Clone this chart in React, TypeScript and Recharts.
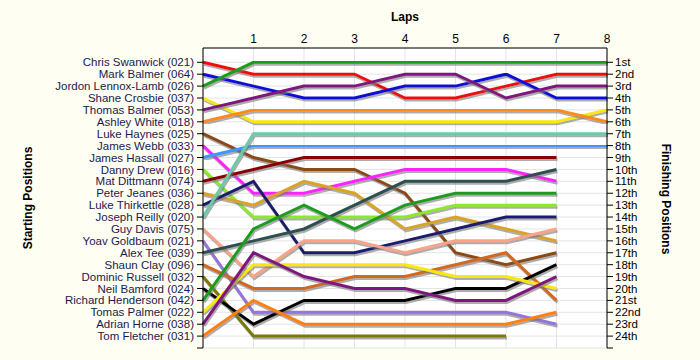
import React from 'react';
import { LineChart, Line, XAxis, YAxis, CartesianGrid } from 'recharts';

const laps = [0, 1, 2, 3, 4, 5, 6, 7, 8];
const lapTicks = ['', '1', '2', '3', '4', '5', '6', '7', '8'];

const driverNames = [
  'Chris Swanwick (021)', 'Mark Balmer (064)', 'Jordon Lennox-Lamb (026)', 'Shane Crosbie (037)',
  'Thomas Balmer (053)', 'Ashley White (018)', 'Luke Haynes (025)', 'James Webb (033)',
  'James Hassall (027)', 'Danny Drew (016)', 'Mat Dittmann (074)', 'Peter Jeanes (036)',
  'Luke Thirkettle (028)', 'Joseph Reilly (020)', 'Guy Davis (075)', 'Yoav Goldbaum (021)',
  'Alex Tee (039)', 'Shaun Clay (096)', 'Dominic Russell (032)', 'Neil Bamford (024)',
  'Richard Henderson (042)', 'Tomas Palmer (022)', 'Adrian Horne (038)', 'Tom Fletcher (031)',
];

const finishLabels = [
  '1st', '2nd', '3rd', '4th', '5th', '6th', '7th', '8th', '9th', '10th', '11th', '12th',
  '13th', '14th', '15th', '16th', '17th', '18th', '19th', '20th', '21st', '22nd', '23rd', '24th',
];

const driverColors = [
  '#ee1111', '#1010d8', '#1c9c1c', '#f8e80a', '#7e167e', '#ff8a1a', '#8b4a14', '#ff22ff',
  '#3a98ff', '#8ce82a', '#880000', '#d8a428', '#1c1c6e', '#6ccaa8', '#f8a488', '#9474d8',
  '#2f4f4f', '#d2691e', '#7a7a00', '#000000', '#1c9c1c', '#f8e80a', '#7e167e', '#ff8010',
];

// position per lap, index = lap number
const swanwick = [1, 2, 2, 2, 4, 4, 3, 2, 2];
const markBalmer = [2, 3, 4, 4, 3, 3, 2, 4, 4];
const lennoxLamb = [3, 1, 1, 1, 1, 1, 1, 1, 1];
const crosbie = [4, 6, 6, 6, 6, 6, 6, 6, 5];
const thomasBalmer = [5, 4, 3, 3, 2, 2, 4, 3, 3];
const ashleyWhite = [6, 5, 5, 5, 5, 5, 5, 5, 6];
const haynes = [7, 9, 10, 10, 12, 17, 18, 17];
const webb = [8, 12, 12, 11, 10, 10, 10, 11];
const hassall = [9, 8, 8, 8, 8, 8, 8, 8, 8];
const drew = [10, 14, 14, 14, 14, 13, 13, 13];
const dittmann = [11, 10, 9, 9, 9, 9, 9, 9];
const jeanes = [12, 13, 11, 12, 15, 14, 15, 16];
const thirkettle = [13, 11, 17, 17, 16, 15, 14, 14];
const reilly = [14, 7, 7, 7, 7, 7, 7, 7, 7];
const davis = [15, 19, 16, 16, 17, 16, 16, 15];
const goldbaum = [16, 22, 22, 22, 22, 22, 22, 23];
const tee = [17, 16, 15, 13, 11, 11, 11, 10];
const clay = [18, 20, 20, 19, 19, 18, 17, 21];
const russell = [19, 24, 24, 24, 24, 24, 24];
const bamford = [20, 23, 21, 21, 21, 20, 20, 18];
const henderson = [21, 15, 13, 15, 13, 12, 12, 12];
const palmer = [22, 18, 18, 18, 18, 19, 19, 20];
const horne = [23, 17, 19, 20, 20, 21, 21, 19];
const fletcher = [24, 21, 23, 23, 23, 23, 23, 22];

const driverLaps = [
  swanwick, markBalmer, lennoxLamb, crosbie, thomasBalmer, ashleyWhite, haynes, webb,
  hassall, drew, dittmann, jeanes, thirkettle, reilly, davis, goldbaum,
  tee, clay, russell, bamford, henderson, palmer, horne, fletcher,
];

const positionTicks = [...driverNames.map((_, i) => i + 1), 25];

const chartData = laps.map((lap, li) => {
  const row: Record<string, number | undefined> = { lap };
  driverLaps.forEach((arr, di) => {
    row[`d${di}`] = arr[li];
  });
  return row;
});

const font = '"Liberation Sans", Arial, sans-serif';

export default function App() {
  return (
    <div
      style={{
        position: 'absolute',
        left: 0,
        top: 0,
        width: 700,
        height: 360,
        background: '#fffef2',
        fontFamily: font,
      }}
    >
      <div style={{ position: 'absolute', left: 385, top: 10, width: 40, textAlign: 'center', fontSize: 12, fontWeight: 'bold' }}>
        Laps
      </div>
      <div
        style={{
          position: 'absolute',
          left: 28,
          top: 198,
          fontSize: 12,
          fontWeight: 'bold',
          whiteSpace: 'nowrap',
          transform: 'translate(-50%, -50%) rotate(-90deg)',
        }}
      >
        Starting Positions
      </div>
      <div
        style={{
          position: 'absolute',
          left: 666,
          top: 199,
          fontSize: 12,
          fontWeight: 'bold',
          whiteSpace: 'nowrap',
          transform: 'translate(-50%, -50%) rotate(90deg)',
        }}
      >
        Finishing Positions
      </div>
      <div style={{ position: 'absolute', left: 0, top: 0 }}>
        <LineChart width={700} height={360} data={chartData} margin={{ top: 28, right: 0, bottom: 12, left: 0 }}>
          <defs>
            <filter id="lineShadow" x="-5%" y="-5%" width="110%" height="120%">
              <feDropShadow dx="1" dy="2" stdDeviation="0.4" floodColor="#777" floodOpacity="0.6" />
            </filter>
          </defs>
          <CartesianGrid yAxisId="left" stroke="#e4e4e4" fill="#ffffff" />
          <XAxis
            dataKey="lap"
            type="number"
            orientation="top"
            domain={[0, 8]}
            ticks={laps}
            tickFormatter={(v: number) => lapTicks[v]}
            height={20}
            tickSize={0}
            tickMargin={5}
            stroke="#000"
            tick={{ fill: '#000', fontSize: 12, fontFamily: font }}
          />
          <YAxis
            yAxisId="left"
            type="number"
            reversed
            domain={[-0.2, 25]}
            allowDataOverflow
            ticks={positionTicks}
            interval={0}
            tickFormatter={(v: number) => driverNames[v - 1] ?? ''}
            width={203}
            tickSize={6}
            tickMargin={3}
            stroke="#000"
            tick={{ fill: '#1a1a50', fontSize: 11.5, fontFamily: font }}
          />
          <YAxis
            yAxisId="right"
            orientation="right"
            type="number"
            reversed
            domain={[-0.2, 25]}
            allowDataOverflow
            ticks={positionTicks}
            interval={0}
            tickFormatter={(v: number) => finishLabels[v - 1] ?? ''}
            width={93}
            tickSize={6}
            tickMargin={2}
            stroke="#000"
            tick={{ fill: '#000', fontSize: 11.5, fontFamily: font }}
          />
          {driverNames.map((name, i) => (
            <Line
              key={name}
              yAxisId="left"
              type="linear"
              dataKey={`d${i}`}
              name={name}
              stroke={driverColors[i]}
              strokeWidth={3}
              dot={false}
              activeDot={false}
              filter="url(#lineShadow)"
              isAnimationActive={false}
            />
          ))}
        </LineChart>
      </div>
    </div>
  );
}
